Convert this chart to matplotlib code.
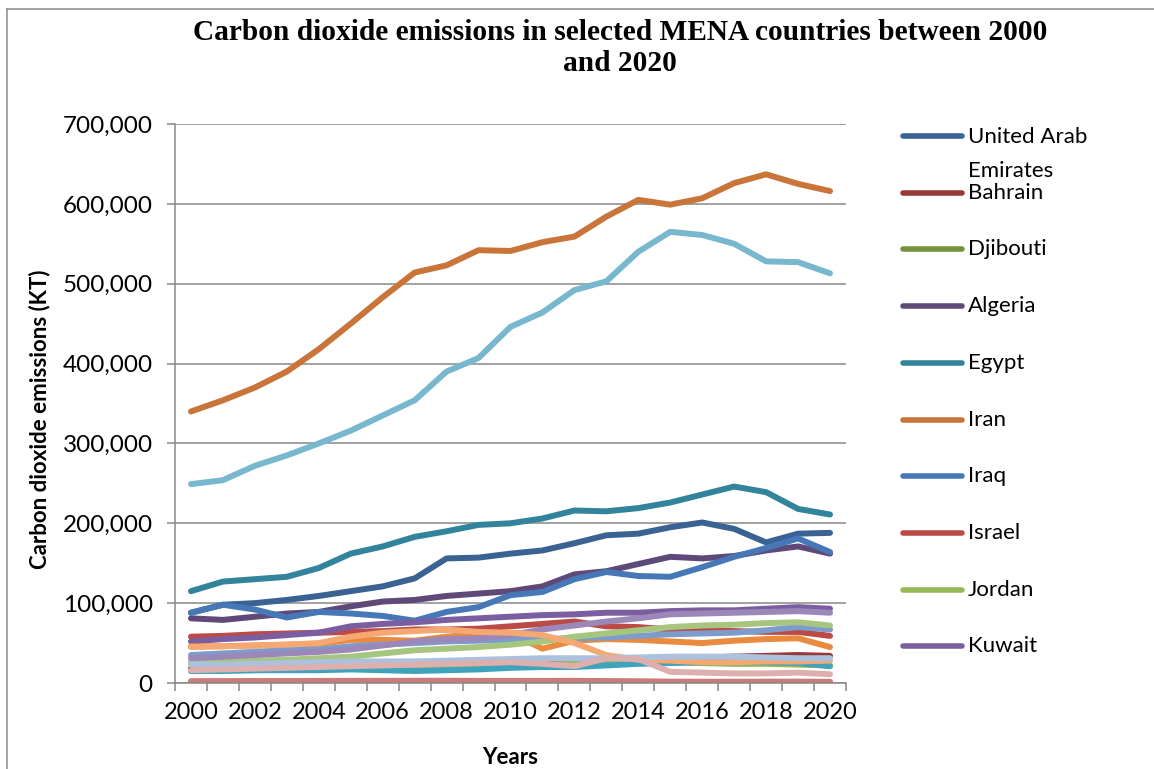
import matplotlib
matplotlib.use('Agg')
import matplotlib.pyplot as plt
from matplotlib.lines import Line2D
from matplotlib.ticker import FuncFormatter, MultipleLocator, FixedLocator

# ---------------- data (kt of CO2) ----------------
years = list(range(2000, 2021))

countries = ["United Arab Emirates", "Bahrain", "Djibouti", "Algeria", "Egypt",
             "Iran", "Iraq", "Israel", "Jordan", "Kuwait", "Lebanon", "Libya",
             "Morocco", "Malta", "Oman", "Qatar", "Saudi Arabia", "Syria",
             "Tunisia", "Yemen"]

uae      = [88000, 98000, 100000, 104000, 109000, 115000, 121000, 131000, 156000, 157000, 162000,
            166000, 175000, 185000, 187000, 195000, 201000, 193000, 176000, 187000, 188000]
bahrain  = [18000, 19000, 20000, 21000, 22000, 23000, 24000, 25000, 26000, 26000, 27000,
            28000, 29000, 30000, 31000, 32000, 32000, 33000, 34000, 35000, 34000]
djibouti = [400, 410, 420, 430, 440, 450, 460, 470, 480, 480, 490,
            500, 500, 510, 520, 530, 540, 550, 560, 570, 560]
algeria  = [81000, 79000, 83000, 87000, 89000, 96000, 102000, 104000, 109000, 112000, 115000,
            121000, 136000, 140000, 149000, 158000, 156000, 159000, 166000, 171000, 162000]
egypt    = [115000, 127000, 130000, 133000, 144000, 162000, 171000, 183000, 190000, 198000, 200000,
            206000, 216000, 215000, 219000, 226000, 236000, 246000, 239000, 218000, 211000]
iran     = [340000, 354000, 370000, 390000, 418000, 450000, 483000, 514000, 523000, 542000, 541000,
            552000, 559000, 584000, 605000, 599000, 607000, 626000, 637000, 625000, 616000]
iraq     = [88000, 98000, 92000, 82000, 89000, 87000, 84000, 78000, 89000, 95000, 110000,
            114000, 130000, 139000, 134000, 133000, 145000, 158000, 169000, 181000, 164000]
israel   = [58000, 59000, 61000, 62000, 63000, 64000, 65000, 67000, 67000, 68000, 71000,
            74000, 77000, 71000, 70000, 67000, 66000, 65000, 64000, 64000, 59000]
jordan   = [15000, 16000, 16000, 17000, 18000, 19000, 20000, 20000, 21000, 21000, 22000,
            23000, 24000, 25000, 26000, 26000, 25000, 24000, 24000, 23000, 22000]
kuwait   = [52000, 55000, 57000, 60000, 63000, 71000, 74000, 76000, 79000, 81000, 83000,
            85000, 86000, 88000, 88000, 90000, 91000, 91000, 93000, 95000, 93000]
lebanon  = [15000, 15000, 16000, 16000, 16000, 17000, 16000, 15000, 16000, 17000, 19000,
            20000, 20000, 22000, 24000, 25000, 26000, 26000, 26000, 25000, 21000]
libya    = [46000, 46000, 47000, 48000, 49000, 54000, 54000, 53000, 58000, 61000, 62000,
            43000, 53000, 55000, 54000, 52000, 50000, 53000, 55000, 56000, 45000]
morocco  = [35000, 37000, 39000, 41000, 42000, 46000, 48000, 50000, 52000, 53000, 54000,
            55000, 56000, 57000, 59000, 61000, 62000, 63000, 66000, 70000, 67000]
malta    = [2300, 2400, 2500, 2500, 2600, 2700, 2700, 2800, 2800, 2600, 2600,
            2600, 2700, 2400, 2200, 1700, 1600, 1600, 1700, 1700, 1500]
oman     = [26000, 27000, 28000, 29000, 31000, 33000, 37000, 41000, 43000, 45000, 48000,
            52000, 58000, 62000, 66000, 70000, 72000, 73000, 75000, 76000, 72000]
qatar    = [31000, 33000, 35000, 37000, 39000, 42000, 47000, 52000, 55000, 56000, 60000,
            67000, 72000, 77000, 81000, 86000, 87000, 88000, 89000, 90000, 88000]
saudi    = [249000, 254000, 272000, 285000, 300000, 316000, 335000, 354000, 390000, 407000, 446000,
            464000, 492000, 503000, 540000, 565000, 561000, 550000, 528000, 527000, 513000]
syria    = [45000, 46000, 47000, 48000, 50000, 58000, 63000, 65000, 67000, 64000, 63000,
            60000, 50000, 35000, 29000, 28000, 26000, 26000, 27000, 27000, 28000]
tunisia  = [23000, 23000, 24000, 25000, 26000, 27000, 27000, 27000, 28000, 29000, 30000,
            31000, 31000, 31000, 32000, 33000, 33000, 33000, 32000, 31000, 31000]
yemen    = [16000, 17000, 18000, 19000, 20000, 21000, 22000, 23000, 24000, 25000, 26000,
            24000, 21000, 31000, 30000, 14000, 13000, 12000, 12000, 13000, 11000]

series = [uae, bahrain, djibouti, algeria, egypt, iran, iraq, israel, jordan, kuwait,
          lebanon, libya, morocco, malta, oman, qatar, saudi, syria, tunisia, yemen]

colors = ["#3A6293", "#973936", "#76923C", "#5F4979", "#31849B", "#C9753A",
          "#4678B8", "#BC4A47", "#98B954", "#7B5E9F", "#3FA3BD", "#E98A3F",
          "#7D9CCC", "#CB7B79", "#A6C57E", "#9B88B9", "#78B8CF", "#F6A873",
          "#ACC1DE", "#DDB0AF"]

legend_labels = ["United Arab\nEmirates", "Bahrain", "Djibouti", "Algeria", "Egypt",
                 "Iran", "Iraq", "Israel", "Jordan", "Kuwait"]

title = "Carbon dioxide emissions in selected MENA countries between 2000\nand 2020"
y_title = "Carbon dioxide emissions (KT)"
x_title = "Years"

# ---------------- figure ----------------
W, H = 1154, 769
SANS = ['Lato', 'DejaVu Sans']
GRAY = '#878787'

fig = plt.figure(figsize=(W / 100, H / 100), dpi=100)
fig.patch.set_facecolor('white')

ax = fig.add_axes([175 / W, 1 - 683 / H, (846 - 175) / W, (683 - 124) / H])

lines = []
for vals, col in zip(series, colors):
    ln, = ax.plot(years, vals, color=col, lw=4.3, solid_capstyle='round',
                  solid_joinstyle='round')
    lines.append(ln)

ax.set_xlim(1999.5, 2020.5)
ax.set_ylim(0, 700000)

ax.yaxis.set_major_locator(MultipleLocator(100000))
ax.yaxis.set_major_formatter(FuncFormatter(lambda v, p: f"{v:,.0f}"))
ax.grid(axis='y', color=GRAY, lw=1.1)
ax.set_axisbelow(True)

ax.xaxis.set_major_locator(FixedLocator(years[::2]))
ax.xaxis.set_major_formatter(FuncFormatter(lambda v, p: f"{int(round(v))}"))
ax.xaxis.set_minor_locator(FixedLocator([y - 0.5 for y in years] + [years[-1] + 0.5]))
ax.tick_params(axis='x', which='major', length=0, pad=14, labelsize=17)
ax.tick_params(axis='x', which='minor', length=6, width=1.1, color=GRAY, direction='out')
ax.tick_params(axis='y', which='major', length=6, width=1.1, color=GRAY,
               direction='out', pad=10, labelsize=17.5)
for lab in ax.get_xticklabels() + ax.get_yticklabels():
    lab.set_family(SANS)

for s in ['top', 'right']:
    ax.spines[s].set_visible(False)
for s in ['left', 'bottom']:
    ax.spines[s].set_color(GRAY)
    ax.spines[s].set_linewidth(1.1)

# titles
fig.text(620 / W, 1 - 19 / H, title, ha='center', va='top', family='Liberation Serif',
         weight='bold', size=21.2, linespacing=1.2)
fig.text(40 / W, 1 - 419 / H, y_title, rotation=90, ha='center', va='center',
         family=SANS, weight='bold', size=16)
fig.text(510 / W, 1 - 758 / H, x_title, ha='center', va='center',
         family=SANS, weight='bold', size=16)

# legend (first ten series, as in the reference)
for i, lab in enumerate(legend_labels):
    yc = 1 - (136 + 56.7 * i) / H
    fig.add_artist(Line2D([903 / W, 962 / W], [yc, yc], transform=fig.transFigure,
                          color=lines[i].get_color(), lw=4, solid_capstyle='round'))
    if '\n' in lab:
        fig.text(968 / W, yc + 9 / H, lab, ha='left', va='top', family=SANS,
                 size=16, linespacing=1.85)
    else:
        fig.text(968 / W, yc, lab, ha='left', va='center', family=SANS, size=16)

# outer frame (chart area border)
fig.add_artist(Line2D([7 / W, 7 / W], [0, 1 - 9 / H], transform=fig.transFigure,
                      color='#8c8c8c', lw=1.1))
fig.add_artist(Line2D([7 / W, 1], [1 - 9 / H, 1 - 9 / H], transform=fig.transFigure,
                      color='#8c8c8c', lw=1.1))

fig.savefig('out.png', dpi=100)
